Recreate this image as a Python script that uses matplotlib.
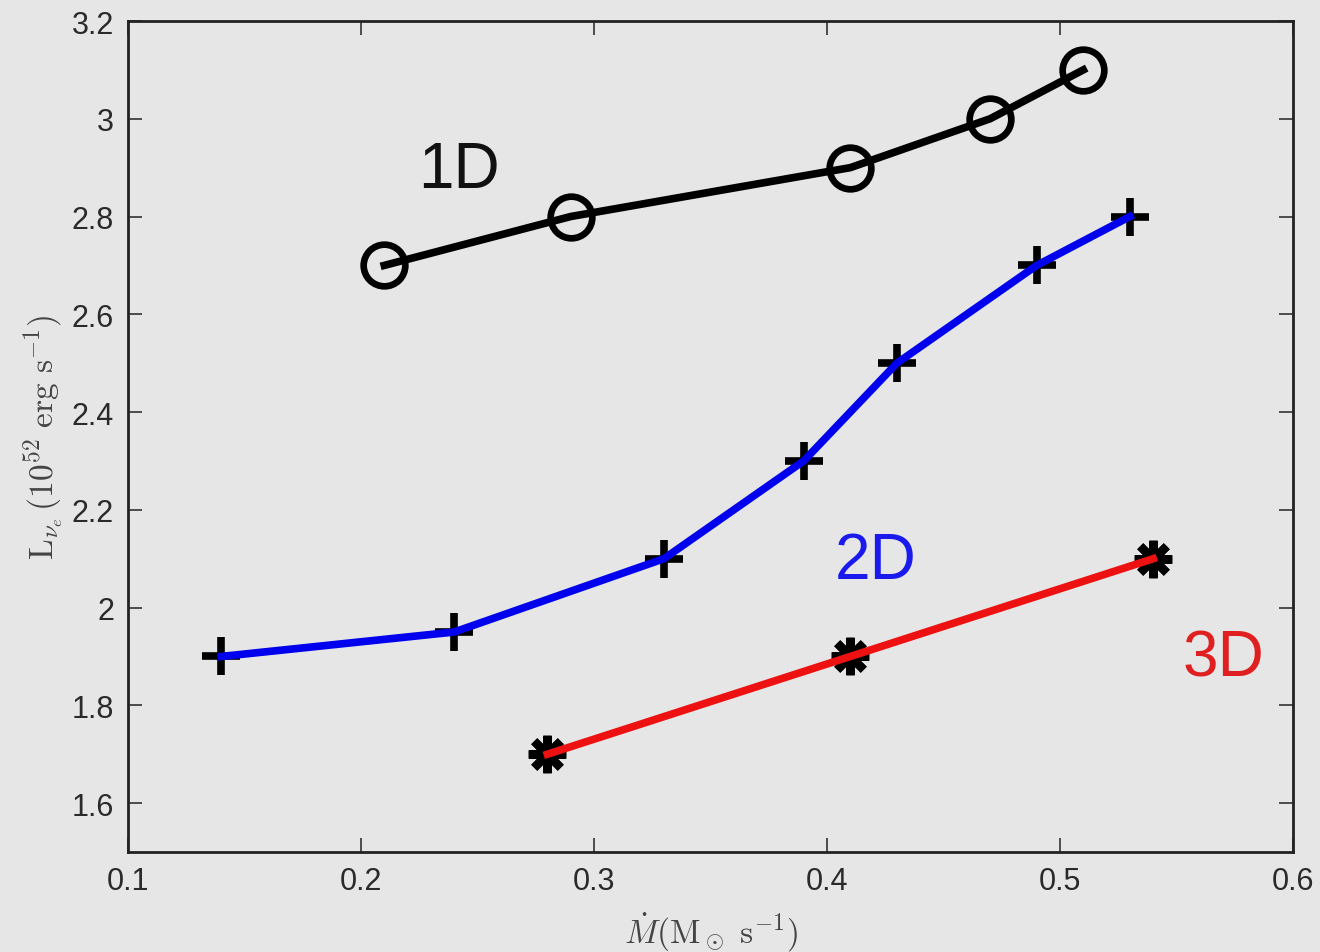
import matplotlib
matplotlib.use("Agg")
import matplotlib.pyplot as plt

# Neutrino luminosity versus mass accretion rate for 1D, 2D and 3D models
mdot_1d = [0.21, 0.29, 0.41, 0.47, 0.51]
lum_1d = [2.7, 2.8, 2.9, 3.0, 3.1]

mdot_2d = [0.14, 0.24, 0.33, 0.39, 0.43, 0.49, 0.53]
lum_2d = [1.9, 1.95, 2.1, 2.3, 2.5, 2.7, 2.8]

mdot_3d = [0.28, 0.41, 0.54]
lum_3d = [1.7, 1.9, 2.1]

xticks = [0.1, 0.2, 0.3, 0.4, 0.5, 0.6]
xticklabels = ["0.1", "0.2", "0.3", "0.4", "0.5", "0.6"]
yticks = [1.6, 1.8, 2.0, 2.2, 2.4, 2.6, 2.8, 3.0, 3.2]
yticklabels = ["1.6", "1.8", "2", "2.2", "2.4", "2.6", "2.8", "3", "3.2"]

plt.rcParams["mathtext.fontset"] = "cm"
bg = "#e6e6e6"

fig = plt.figure(figsize=(13.2, 9.53), dpi=100, facecolor=bg)
ax = fig.add_axes([128 / 1320, 1 - 853 / 953, (1293 - 128) / 1320, (853 - 22) / 953])
ax.set_facecolor(bg)

# 1D: black line through open circles
ax.plot(mdot_1d, lum_1d, color="black", lw=5.5, zorder=3)
ax.plot(mdot_1d, lum_1d, ls="none", marker="o", ms=30, mfc="none",
        mec="black", mew=4.8, zorder=4)

# 2D: plus markers under a blue line
ax.plot(mdot_2d, lum_2d, ls="none", marker="+", ms=28, mec="black",
        mew=5.5, zorder=3)
ax.plot(mdot_2d, lum_2d, color="#0000ee", lw=5.5, zorder=4)

# 3D: asterisk markers under a red line
ax.plot(mdot_3d, lum_3d, ls="none", marker=(8, 2, 0), ms=27, mec="black",
        mew=6.0, zorder=3)
ax.plot(mdot_3d, lum_3d, color="#ee1111", lw=5.5, zorder=4)

label_font = ["Liberation Sans", "DejaVu Sans"]
ax.text(0.242, 2.895, "1D", color="#111111", fontsize=46, ha="center",
        va="center", family=label_font)
ax.text(0.421, 2.095, "2D", color="#1a1aee", fontsize=46, ha="center",
        va="center", family=label_font)
ax.text(0.57, 1.895, "3D", color="#e02020", fontsize=46, ha="center",
        va="center", family=label_font)

ax.set_xlim(0.1, 0.6)
ax.set_ylim(1.5, 3.2)
ax.set_xticks(xticks)
ax.set_xticklabels(xticklabels)
ax.set_yticks(yticks)
ax.set_yticklabels(yticklabels)
for lab in ax.get_xticklabels() + ax.get_yticklabels():
    lab.set_family(label_font)
    lab.set_fontsize(22)
    lab.set_color("#2a2a2a")

ax.tick_params(direction="in", length=10, width=1.2, top=True, right=True,
               color="#333333", pad=10)
for sp in ax.spines.values():
    sp.set_linewidth(2)
    sp.set_color("#222222")

ax.set_xlabel(r"$\dot{M}(\mathrm{M_\odot\ s^{-1}})$", fontsize=24,
              color="#444444", labelpad=10)
ax.set_ylabel(r"$\mathrm{L}_{\nu_e}\,(10^{52}\ \mathrm{erg\ s^{-1}})$",
              fontsize=24, color="#444444", labelpad=4)

fig.savefig("out.png", dpi=100, facecolor=bg)
